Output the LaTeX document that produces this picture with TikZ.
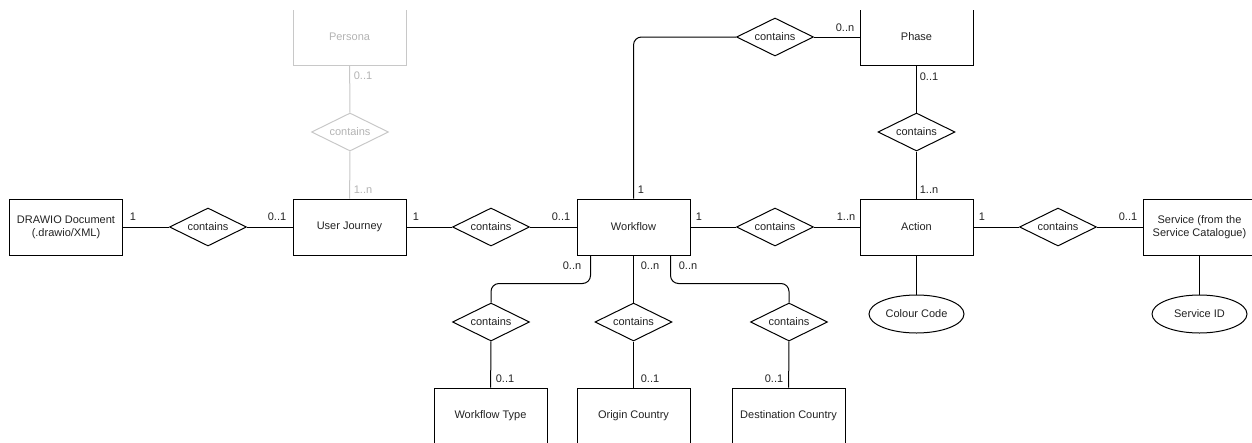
\documentclass[tikz,border=0pt]{standalone}
\usepackage{fontspec}
\setmainfont{Liberation Sans}
\usetikzlibrary{shapes.geometric}
\definecolor{ink}{HTML}{222222}
\definecolor{faded}{HTML}{C8C8C8}
\definecolor{fadedtext}{HTML}{B3B3B3}
\begin{document}
\begin{tikzpicture}[x=1pt,y=-1pt,line width=1pt,
  every node/.style={font=\fontsize{11}{13}\selectfont,text=ink},
  entity/.style={draw,rectangle,minimum width=113pt,minimum height=56pt,inner sep=2pt,align=center},
  rel/.style={draw,diamond,aspect=2,minimum width=77pt,minimum height=38pt,inner sep=0pt},
  attr/.style={draw,ellipse,minimum width=95pt,minimum height=38pt,inner sep=0pt},
  lbl/.style={inner sep=0pt},
  faint/.style={draw=faded,text=fadedtext},
  link/.style={draw,rounded corners=8pt}]
\useasboundingbox (0,0) rectangle (1252,442);
\clip (0,10) rectangle (1252,442);

% entities
\node[entity] (doc) at (66,227) {DRAWIO Document\\(.drawio/XML)};
\node[entity] (uj) at (349.5,227) {User Journey};
\node[entity] (wf) at (633.5,227) {Workflow};
\node[entity] (act) at (916.5,227) {Action};
\node[entity] (svc) at (1199.5,227) {Service (from the\\Service Catalogue)};
\node[entity,faint] (per) at (349.5,37) {Persona};
\node[entity] (ph) at (916.5,37) {Phase};
\node[entity] (wt) at (490.5,416) {Workflow Type};
\node[entity] (oc) at (633.5,416) {Origin Country};
\node[entity] (dc) at (788.5,416) {Destination Country};

% relationships
\node[rel] (r1) at (208,227) {contains};
\node[rel] (r2) at (491,227) {contains};
\node[rel] (r3) at (775,227) {contains};
\node[rel] (r4) at (1058,227) {contains};
\node[rel,faint] (rp) at (350,132) {contains};
\node[rel] (rph) at (775,37) {contains};
\node[rel] (rpa) at (916.5,132) {contains};
\node[rel] (rwt) at (491,322) {contains};
\node[rel] (roc) at (633.5,322) {contains};
\node[rel] (rdc) at (789,322) {contains};

% attributes
\node[attr] (cc) at (916.5,314) {Colour Code};
\node[attr] (sid) at (1199.5,314) {Service ID};

% connectors
\draw (doc) -- (r1) -- (uj);
\draw (uj) -- (r2) -- (wf);
\draw (wf) -- (r3) -- (act);
\draw (act) -- (r4) -- (svc);
\draw[faded] (per) -- (rp) -- (uj);
\draw (ph) -- (rpa) -- (act);
\draw[link] (wf.north) |- (rph.west);
\draw (rph) -- (ph);
\draw[link] ([xshift=14pt]wf.south west) -- ++(0,28) -| (rwt.north);
\draw (wf.south) -- (roc.north);
\draw[link] ([xshift=-20pt]wf.south east) -- ++(0,28) -| (rdc.north);
\draw (rwt) -- (wt);
\draw (roc) -- (oc);
\draw (rdc) -- (dc);
\draw (act) -- (cc);
\draw (svc) -- (sid);

% cardinalities
\node[lbl] (c1) at (133,217) {1};
\node[lbl] (c2) at (277,217) {0..1};
\node[lbl] (c3) at (416,217) {1};
\node[lbl] (c4) at (561,217) {0..1};
\node[lbl] (c5) at (699,217) {1};
\node[lbl] (c6) at (846,217) {1..n};
\node[lbl] (c7) at (982,217) {1};
\node[lbl] (c8) at (1128,217) {0..1};
\node[lbl,text=fadedtext] (c9) at (363,76) {0..1};
\node[lbl,text=fadedtext] (c10) at (363,190) {1..n};
\node[lbl] (c11) at (641,190) {1};
\node[lbl] (c12) at (845,28) {0..n};
\node[lbl] (c13) at (929,77) {0..1};
\node[lbl] (c14) at (929,190) {1..n};
\node[lbl] (c15) at (572,266) {0..n};
\node[lbl] (c16) at (650,266) {0..n};
\node[lbl] (c17) at (688,266) {0..n};
\node[lbl] (c18) at (505,379) {0..1};
\node[lbl] (c19) at (650,379) {0..1};
\node[lbl] (c20) at (774,379) {0..1};
\end{tikzpicture}
\end{document}
